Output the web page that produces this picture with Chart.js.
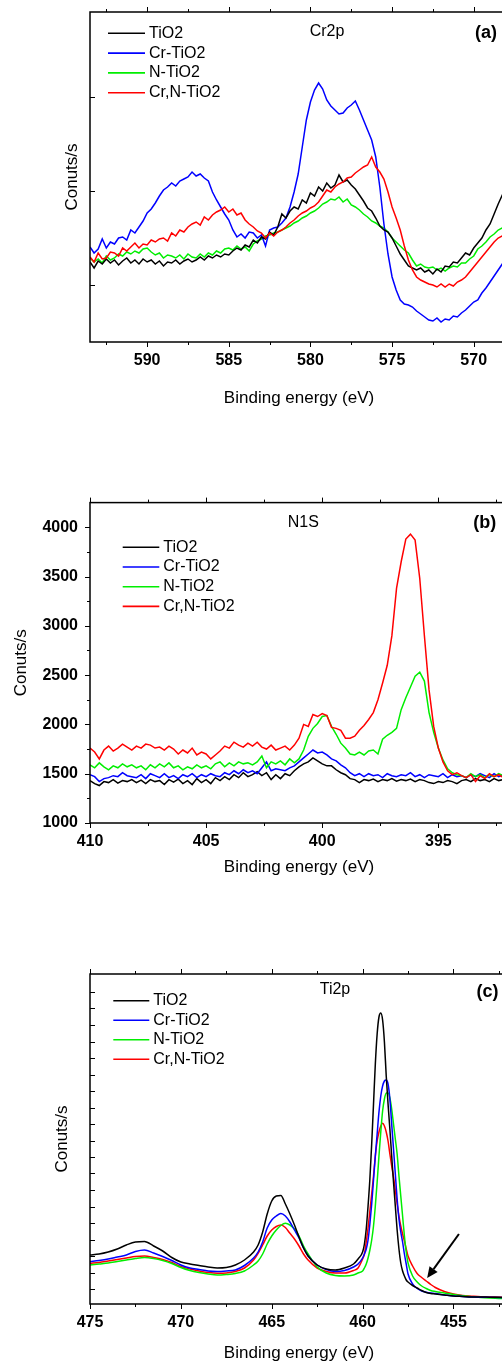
<!DOCTYPE html>
<html>
<head>
<meta charset="utf-8">
<script src="https://cdn.jsdelivr.net/npm/chart.js"></script>
<style>
  html, body { margin: 0; padding: 0; background: #fff; overflow: hidden; width: 502px; height: 1363px; }
  body { position: relative; }
  canvas { position: absolute; left: 0; }
</style>
</head>
<body>
<canvas id="chartA" width="540" height="422" style="top:0px"></canvas>
<canvas id="chartB" width="540" height="422" style="top:481px"></canvas>
<canvas id="chartC" width="540" height="422" style="top:962px"></canvas>
<script>
const seriesNames = ["TiO2", "Cr-TiO2", "N-TiO2", "Cr,N-TiO2"];

// (a) Cr2p, binding energy (eV) and intensity (a.u.)
const energyA = [593.5, 593.25, 593, 592.75, 592.5, 592.25, 592, 591.75, 591.5, 591.25, 591, 590.75,
  590.5, 590.25, 590, 589.75, 589.5, 589.25, 589, 588.75, 588.5, 588.25, 588, 587.75,
  587.5, 587.25, 587, 586.75, 586.5, 586.25, 586, 585.75, 585.5, 585.25, 585, 584.75,
  584.5, 584.25, 584, 583.75, 583.5, 583.25, 583, 582.75, 582.5, 582.25, 582, 581.75,
  581.5, 581.25, 581, 580.75, 580.5, 580.25, 580, 579.75, 579.5, 579.25, 579, 578.75,
  578.5, 578.25, 578, 577.75, 577.5, 577.25, 577, 576.75, 576.5, 576.25, 576, 575.75,
  575.5, 575.25, 575, 574.75, 574.5, 574.25, 574, 573.75, 573.5, 573.25, 573, 572.75,
  572.5, 572.25, 572, 571.75, 571.5, 571.25, 571, 570.75, 570.5, 570.25, 570, 569.75,
  569.5, 569.25, 569, 568.75, 568.5, 568.25, 568, 567.75, 567.5];
const tio2A = [80, 74, 81, 78, 83, 79, 82, 77, 81, 84, 79, 82, 78, 83, 80, 82, 78, 81, 76, 80,
  79, 82, 78, 81, 83, 80, 82, 85, 82, 86, 84, 87, 85, 88, 87, 91, 94, 92, 97, 95,
  102, 99, 105, 103, 110, 107, 115, 128, 124, 131, 135, 133, 142, 139, 149, 146, 155, 151, 159, 154,
  157, 167, 160, 162, 157, 153, 147, 141, 134, 131, 124, 116, 112, 110, 104, 96, 88, 82, 76, 74,
  72, 74, 70, 72, 68, 73, 70, 76, 75, 80, 79, 84, 89, 87, 94, 99, 104, 112, 118, 128,
  138, 147, 155, 163, 172];
const crA = [95, 89, 93, 103, 94, 100, 98, 104, 105, 102, 112, 109, 115, 121, 129, 133, 139, 146, 152, 155,
  159, 156, 161, 163, 165, 170, 166, 168, 164, 161, 150, 142, 135, 128, 122, 112, 105, 108, 104, 110,
  109, 104, 107, 96, 112, 114, 115, 119, 124, 135, 150, 168, 195, 222, 240, 252, 259, 253, 242, 236,
  232, 228, 229, 234, 237, 241, 232, 222, 212, 202, 185, 155, 118, 88, 65, 52, 42, 38, 37, 35,
  31, 28, 25, 22, 21, 24, 20, 23, 22, 26, 25, 29, 32, 36, 40, 42, 49, 54, 60, 66,
  72, 78, 86, 91, 96];
const nA = [84, 80, 83, 79, 86, 82, 84, 88, 86, 90, 88, 91, 89, 93, 94, 90, 87, 89, 84, 87,
  86, 84, 87, 83, 88, 85, 84, 88, 85, 89, 87, 91, 89, 93, 94, 92, 96, 93, 95, 91,
  98, 101, 103, 106, 107, 109, 110, 112, 114, 116, 119, 121, 124, 126, 129, 131, 134, 138, 140, 143,
  142, 145, 140, 143, 137, 135, 132, 128, 125, 121, 119, 116, 114, 110, 104, 100, 96, 92, 89, 82,
  76, 78, 75, 74, 75, 72, 74, 71, 74, 76, 75, 79, 79, 83, 86, 93, 96, 100, 105, 108,
  112, 114, 118, 123, 128];
const crnA = [85, 80, 89, 83, 84, 90, 89, 86, 94, 91, 95, 99, 94, 98, 97, 102, 100, 103, 104, 101,
  109, 106, 112, 110, 115, 118, 120, 117, 125, 122, 127, 130, 132, 135, 130, 133, 127, 129, 122, 118,
  115, 111, 109, 104, 109, 106, 110, 112, 115, 119, 122, 126, 129, 131, 134, 136, 140, 146, 152, 150,
  155, 158, 160, 164, 165, 169, 172, 175, 177, 185, 175, 170, 163, 150, 135, 124, 112, 96, 82, 72,
  65, 62, 60, 58, 57, 55, 58, 55, 58, 56, 60, 62, 65, 70, 75, 80, 85, 90, 95, 100,
  104, 106, 110, 115, 120];
const xMajorA = [590, 585, 580, 575, 570];
const xMinorA = [592.5, 587.5, 582.5, 577.5, 572.5];
const yTicksA = [57, 151, 245];

// (b) N1S, counts/s
const energyB = [410, 409.8, 409.6, 409.4, 409.2, 409, 408.8, 408.6, 408.4, 408.2,
  408, 407.8, 407.6, 407.4, 407.2, 407, 406.8, 406.6, 406.4, 406.2,
  406, 405.8, 405.6, 405.4, 405.2, 405, 404.8, 404.6, 404.4, 404.2,
  404, 403.8, 403.6, 403.4, 403.2, 403, 402.8, 402.6, 402.4, 402.2,
  402, 401.8, 401.6, 401.4, 401.2, 401, 400.8, 400.6, 400.4, 400.2,
  400, 399.8, 399.6, 399.4, 399.2, 399, 398.8, 398.6, 398.4, 398.2,
  398, 397.8, 397.6, 397.4, 397.2, 397, 396.8, 396.6, 396.4, 396.2,
  396, 395.8, 395.6, 395.4, 395.2, 395, 394.8, 394.6, 394.4, 394.2,
  394, 393.8, 393.6, 393.4, 393.2, 393, 392.8, 392.6, 392.4, 392.2, 392];
const tio2B = [1430, 1400, 1380, 1420, 1410, 1440, 1405, 1430, 1420, 1440,
  1410, 1435, 1400, 1440, 1420, 1430, 1390, 1440, 1415, 1445,
  1400, 1430, 1390, 1450, 1410, 1440, 1400, 1460, 1430, 1470,
  1440, 1490, 1460, 1510, 1470, 1490, 1520, 1480, 1510, 1440,
  1490, 1450, 1500, 1480, 1530, 1570, 1600, 1620, 1660, 1630,
  1600, 1580, 1580, 1540, 1510, 1490, 1450, 1440, 1410, 1440,
  1430, 1445, 1420, 1440, 1430, 1450, 1425, 1440, 1430, 1445,
  1420, 1440, 1430, 1410, 1400, 1420, 1410, 1430, 1420, 1400,
  1430, 1440, 1420, 1450, 1430, 1440, 1420, 1450, 1430, 1440, 1430];
const crB = [1490, 1470, 1420, 1450, 1460, 1480, 1470, 1510, 1480, 1470,
  1460, 1490, 1450, 1500, 1480, 1460, 1500, 1460, 1480, 1450,
  1490, 1470, 1500, 1460, 1490, 1470, 1500, 1480, 1470, 1510,
  1490, 1530, 1500, 1540, 1510, 1530, 1500, 1560, 1620, 1530,
  1550, 1540, 1530, 1560, 1580, 1620, 1660, 1700, 1740, 1710,
  1720, 1690, 1650, 1630, 1590, 1560, 1510, 1480, 1500, 1470,
  1500, 1480, 1490, 1460, 1500, 1480, 1470, 1490, 1480, 1510,
  1470, 1490, 1460, 1490, 1480, 1470, 1500, 1460, 1490, 1470,
  1480, 1460, 1490, 1470, 1500, 1480, 1460, 1500, 1470, 1490, 1480];
const nB = [1590, 1560, 1610, 1570, 1540, 1580, 1560, 1600, 1570, 1590,
  1560, 1580, 1540, 1590, 1560, 1600, 1570, 1610, 1560, 1580,
  1540, 1570, 1550, 1590, 1560, 1580, 1550, 1600, 1620, 1570,
  1610, 1580, 1620, 1600, 1610, 1590, 1620, 1680, 1560, 1620,
  1600, 1630, 1590, 1650, 1610, 1650, 1740, 1880, 1960, 2010,
  2080, 2090, 1980, 1900, 1810, 1760, 1700, 1690, 1720, 1690,
  1730, 1740, 1700, 1850, 1890, 1920, 1960, 2150, 2270, 2380,
  2490, 2530, 2440, 2120, 1920, 1760, 1640, 1550, 1510, 1490,
  1480, 1460, 1500, 1470, 1490, 1460, 1490, 1470, 1500, 1480, 1460];
const crnB = [1760, 1720, 1650, 1740, 1780, 1730, 1760, 1800, 1770, 1740,
  1780, 1760, 1800, 1790, 1760, 1770, 1740, 1780, 1750, 1700,
  1740, 1710, 1760, 1690, 1720, 1700, 1650, 1690, 1730, 1780,
  1760, 1820, 1790, 1770, 1810, 1780, 1820, 1770, 1750, 1790,
  1740, 1760, 1780, 1740, 1790, 1860, 2000, 1980, 2100, 2080,
  2110, 2090, 1970, 1960, 1940, 1860, 1860, 1880, 1940, 1990,
  2050, 2120, 2250, 2420, 2600, 2900, 3380, 3650, 3880, 3930,
  3870, 3480, 2900, 2350, 1980, 1760, 1620, 1530, 1490, 1510,
  1480, 1460, 1490, 1420, 1480, 1450, 1500, 1470, 1490, 1460, 1480];
const xMajorB = [410, 405, 400, 395];
const xMinorB = [407.5, 402.5, 397.5, 392.5];
const yMajorB = [1000, 1500, 2000, 2500, 3000, 3500, 4000];
const yMinorB = [1250, 1750, 2250, 2750, 3250, 3750];

// (c) Ti2p, intensity (a.u.)
const energyC = [475, 474.5, 474, 473.5, 473, 472.5, 472, 471.5, 471, 470.5, 470, 469.5, 469, 468.5,
  468, 467.5, 467, 466.5, 466, 465.75, 465.5, 465.25, 465, 464.75, 464.5, 464.25, 464, 463.75,
  463.5, 463.25, 463, 462.5, 462, 461.5, 461, 460.5, 460.25, 460, 459.9, 459.8, 459.7, 459.6,
  459.5, 459.4, 459.3, 459.2, 459.1, 459, 458.9, 458.8, 458.7, 458.6, 458.5, 458.4, 458.3, 458.2,
  458.1, 458, 457.9, 457.8, 457.7, 457.6, 457.5, 457.25, 457, 456.75, 456.5, 456.25, 456, 455.5,
  455, 454.5, 454, 453.5, 453, 452.5, 452, 451.5];
const tio2C = [49, 50, 52, 55, 59, 62, 62.5, 58, 53, 46.5, 42, 40, 38.5, 37, 36, 36.5, 39, 44, 52,
  59, 72, 90, 103, 108, 108.5, 100, 90, 79, 67, 56, 48,
  39, 35, 34, 36, 40, 45, 52,
  60, 75, 98, 125, 160, 200, 240, 270, 287, 291, 284, 262, 228, 200, 175, 148, 122, 98, 74, 55, 41, 33, 28, 24, 22,
  18.5, 16, 13.5, 11.5, 10.5, 10,
  9, 8, 7.5, 7, 7, 6.8, 6.7, 6.5, 6.5];
const crC = [42.3, 43.5, 45, 47, 49, 52.5, 54, 51, 47.5, 43.5, 39, 36, 34.5, 33, 32.5, 33, 34, 38.5, 46,
  52, 62, 76, 84, 88, 90.5, 88, 82, 74, 66, 56, 48,
  39, 34.5, 32.5, 33.5, 37, 40, 46,
  50, 55, 64, 80, 100, 124, 148, 170, 192, 208, 218, 223, 224, 220, 205, 180, 155, 130, 105, 85, 72, 62, 50, 40, 30,
  20, 15.5, 13, 11.8, 11, 10.5,
  9, 8, 7.5, 7, 6.8, 6.7, 6.6, 6.5, 6.5];
const nC = [39, 40, 41, 42.5, 44, 45.5, 46.5, 45.5, 43.5, 40.5, 36.5, 33.5, 31.5, 30, 29, 29.5, 30.5, 33, 39,
  43, 50, 60, 68, 74, 78.5, 80.7, 79, 75, 68, 58, 50,
  37, 31, 28.5, 28, 29, 31, 33,
  36, 40, 46, 54, 64, 78, 98, 122, 148, 172, 193, 205, 211, 211, 206, 195, 180, 165, 150, 128, 108, 88, 68, 52, 41,
  28, 22, 18, 15.5, 13.5, 12.5,
  11, 9.5, 8.2, 7.2, 6.5, 6, 5.6, 5.4, 5.3];
const crnC = [40.7, 41.5, 43, 44.5, 46, 47.5, 48, 46.5, 44.5, 41.5, 37.5, 35, 33, 31.5, 30.7, 31, 32.5, 36, 44,
  50.7, 59, 68, 74, 77.5, 79, 76.5, 70.7, 65, 58, 50, 44,
  36, 32.5, 31, 31, 33.5, 36, 45,
  50, 62, 76, 93, 110, 128, 148, 163, 172, 178, 180.7, 178, 172, 163, 150, 138, 127, 114, 100, 88, 78, 70, 63, 55, 48,
  38, 30.5, 26.5, 23, 19.5, 16.5,
  12.5, 10, 8.5, 7.8, 7.2, 7, 6.8, 6.6, 6.5];
const xMajorC = [475, 470, 465, 460, 455];
const xMinorC = [472.5, 467.5, 462.5, 457.5, 452.5];
const yTicksC = [15, 31.5, 48, 64.5, 81, 97.5, 114, 130.5, 147, 163.5, 180, 196.5, 213, 229.5, 246, 262.5, 279, 295.5, 312];
const arrowC = [[454.7, 70], [456.45, 26]];

const lineColors = ["#000000", "#0000ff", "#00ee00", "#ff0000"];
const FONT = '"Liberation Sans", Arial, Helvetica, sans-serif';
Chart.defaults.font.family = FONT;
Chart.defaults.color = "#000";

// frame, tick marks, legend, panel labels, arrow
const decor = {
  id: "decor",
  afterDraw(chart, args, o) {
    const { ctx, chartArea: a, scales: { x, y } } = chart;
    ctx.save();
    ctx.strokeStyle = "#000";
    ctx.lineWidth = 1;
    ctx.beginPath();
    const xm = (v, len) => {
      const p = Math.round(x.getPixelForValue(v)) + 0.5;
      ctx.moveTo(p, a.bottom); ctx.lineTo(p, a.bottom + len);
      ctx.moveTo(p, a.top); ctx.lineTo(p, a.top - len);
    };
    const ym = (v, len) => {
      const p = Math.round(y.getPixelForValue(v)) + 0.5;
      ctx.moveTo(a.left, p); ctx.lineTo(a.left + o.yDir * len, p);
    };
    o.xMajor.forEach(v => xm(v, 5));
    o.xMinor.forEach(v => xm(v, 3));
    o.yMajor.forEach(v => ym(v, 5));
    o.yMinor.forEach(v => ym(v, 3));
    ctx.stroke();

    ctx.lineWidth = 1.5;
    ctx.strokeRect(a.left, a.top, a.right - a.left, a.bottom - a.top);

    const lg = o.legend;
    ctx.font = "16px " + FONT;
    ctx.textBaseline = "middle";
    ctx.textAlign = "left";
    chart.data.datasets.forEach((ds, i) => {
      const yy = a.top + lg.y + i * lg.row;
      ctx.strokeStyle = ds.borderColor;
      ctx.lineWidth = 1.6;
      ctx.beginPath();
      ctx.moveTo(a.left + lg.x, yy);
      ctx.lineTo(a.left + lg.x + lg.len, yy);
      ctx.stroke();
      ctx.fillStyle = "#000";
      ctx.fillText(ds.label, a.left + lg.x + lg.len + 4, yy);
    });

    ctx.textAlign = "center";
    ctx.fillText(o.title, a.left + o.titlePos[0], a.top + o.titlePos[1]);
    ctx.font = "bold 18px " + FONT;
    ctx.fillText(o.tag, a.left + o.tagPos[0], a.top + o.tagPos[1]);

    if (o.arrow) {
      const x0 = x.getPixelForValue(o.arrow[0][0]), y0 = y.getPixelForValue(o.arrow[0][1]);
      const x1 = x.getPixelForValue(o.arrow[1][0]), y1 = y.getPixelForValue(o.arrow[1][1]);
      const ang = Math.atan2(y1 - y0, x1 - x0);
      const hl = 11, hw = 5;
      const bx = x1 - hl * Math.cos(ang), by = y1 - hl * Math.sin(ang);
      ctx.strokeStyle = "#000";
      ctx.lineWidth = 2;
      ctx.beginPath();
      ctx.moveTo(x0, y0);
      ctx.lineTo(bx, by);
      ctx.stroke();
      ctx.fillStyle = "#000";
      ctx.beginPath();
      ctx.moveTo(x1, y1);
      ctx.lineTo(bx + hw * Math.sin(ang), by - hw * Math.cos(ang));
      ctx.lineTo(bx - hw * Math.sin(ang), by + hw * Math.cos(ang));
      ctx.closePath();
      ctx.fill();
    }
    ctx.restore();
  }
};

function makeChart(id, p) {
  return new Chart(document.getElementById(id), {
    type: "line",
    data: {
      datasets: seriesNames.map((name, i) => ({
        label: name,
        data: p.energy.map((e, j) => ({ x: e, y: p.series[i][j] })),
        borderColor: lineColors[i],
        borderWidth: 1.5,
        pointRadius: 0,
        fill: false,
        tension: 0,
        cubicInterpolationMode: p.smooth ? "monotone" : "default",
        order: p.order[i]
      }))
    },
    options: {
      responsive: false,
      animation: false,
      events: [],
      layout: { padding: { top: 12, right: 32, left: 0, bottom: 0 } },
      plugins: {
        legend: { display: false },
        tooltip: { enabled: false },
        decor: p.decor
      },
      scales: {
        x: {
          type: "linear",
          reverse: true,
          min: p.xRange[0],
          max: p.xRange[1],
          grid: { display: false, drawTicks: false },
          border: { display: false },
          ticks: { font: { size: 16, weight: "bold" }, color: "#000", padding: 9, maxRotation: 0, autoSkip: false, callback: v => String(v) },
          afterBuildTicks: s => { s.ticks = p.decor.xMajor.map(v => ({ value: v })); },
          afterFit: s => { s.height = 80; },
          title: { display: true, text: "Binding energy (eV)", font: { size: 17 }, color: "#000", padding: { top: 0, bottom: p.xTitlePad } }
        },
        y: {
          type: "linear",
          min: p.yRange[0],
          max: p.yRange[1],
          grid: { display: false, drawTicks: false },
          border: { display: false },
          ticks: p.yLabels
            ? { display: true, font: { size: 16, weight: "bold" }, color: "#000", padding: 12, autoSkip: false, callback: v => String(v) }
            : { display: false },
          afterBuildTicks: s => { s.ticks = p.yLabels ? p.yLabels.map(v => ({ value: v })) : []; },
          afterFit: s => { s.width = 90; },
          title: { display: true, text: "Conuts/s", font: { size: 17 }, color: "#000", padding: { top: p.yTitlePad, bottom: 0 } }
        }
      }
    },
    plugins: [decor]
  });
}

makeChart("chartA", {
  energy: energyA,
  series: [tio2A, crA, nA, crnA],
  order: [1, 2, 3, 0],
  xRange: [567.9, 593.5],
  yRange: [0, 330],
  xTitlePad: 13,
  yTitlePad: 62,
  decor: {
    xMajor: xMajorA, xMinor: xMinorA, yMajor: yTicksA, yMinor: [], yDir: 1,
    legend: { x: 18, y: 21.3, row: 19.8, len: 37 },
    title: "Cr2p", titlePos: [237, 19.7], tag: "(a)", tagPos: [396, 21]
  }
});

makeChart("chartB", {
  energy: energyB,
  series: [tio2B, crB, nB, crnB],
  order: [3, 2, 1, 0],
  xRange: [392, 410],
  yRange: [1000, 4250],
  yLabels: yMajorB,
  xTitlePad: 25,
  yTitlePad: 11,
  decor: {
    xMajor: xMajorB, xMinor: xMinorB, yMajor: yMajorB, yMinor: yMinorB, yDir: -1,
    legend: { x: 32.7, y: 44.7, row: 19.7, len: 36.6 },
    title: "N1S", titlePos: [213.3, 19.7], tag: "(b)", tagPos: [394.7, 20.3]
  }
});

makeChart("chartC", {
  energy: energyC,
  series: [tio2C, crC, nC, crnC],
  order: [0, 1, 2, 3],
  smooth: true,
  xRange: [452, 475],
  yRange: [0, 330],
  xTitlePad: 20,
  yTitlePad: 52,
  decor: {
    xMajor: xMajorC, xMinor: xMinorC, yMajor: yTicksC, yMinor: [], yDir: 1,
    legend: { x: 23.3, y: 26.7, row: 19.5, len: 36 },
    title: "Ti2p", titlePos: [245, 15.3], tag: "(c)", tagPos: [397.5, 17.7],
    arrow: arrowC
  }
});
</script>
</body>
</html>
